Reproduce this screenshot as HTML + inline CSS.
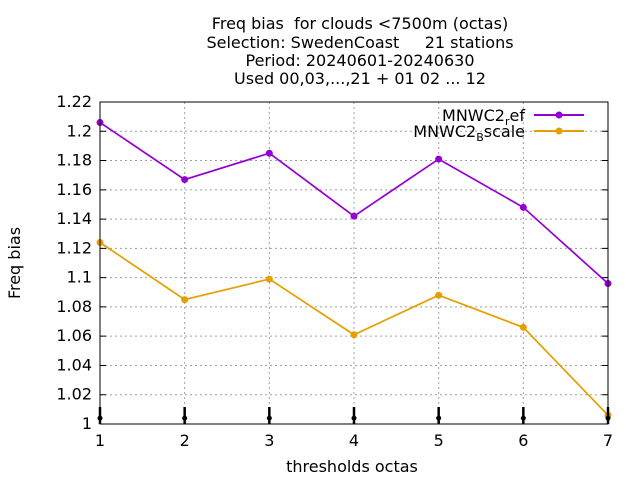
<!DOCTYPE html>
<html><head><meta charset="utf-8"><style>
body{margin:0;background:#fff}
text{font-family:"DejaVu Sans","Liberation Sans",sans-serif;font-size:16px;fill:#000;white-space:pre}
</style></head><body>
<svg id="c" width="640" height="480" xmlns="http://www.w3.org/2000/svg" xml:space="preserve">
<g text-anchor="middle">
<text x="360" y="29">Freq bias  for clouds &lt;7500m (octas)</text>
<text x="360" y="48">Selection: SwedenCoast     21 stations</text>
<text x="360" y="66">Period: 20240601-20240630</text>
<text x="360" y="84">Used 00,03,...,21 + 01 02 ... 12</text>
</g>
<text x="20" y="263" text-anchor="middle" transform="rotate(-90 20 263)">Freq bias</text>
<text x="352" y="472" text-anchor="middle">thresholds octas</text>
<g id="grid"></g><g id="marks"></g>
<rect x="100" y="102" width="508" height="322" fill="none" stroke="#000" stroke-width="1"/>
<g>
<text x="525" y="121" text-anchor="end">MNWC2<tspan font-size="11" dy="4">r</tspan><tspan dy="-4">ef</tspan></text>
<line x1="534" y1="115" x2="584" y2="115" stroke="#9400d3" stroke-width="2"/><circle cx="559" cy="115" r="3.5" fill="#9400d3"/>
<text x="525" y="137" text-anchor="end">MNWC2<tspan font-size="11" dy="4">B</tspan><tspan dy="-4">scale</tspan></text>
<line x1="534" y1="131" x2="584" y2="131" stroke="#e69f00" stroke-width="2"/><circle cx="559" cy="131" r="3.5" fill="#e69f00"/>
</g>
</svg>
<script>
const categories=[1,2,3,4,5,6,7];
const refValues=[1.206,1.167,1.185,1.142,1.181,1.148,1.096];
const bscaleValues=[1.124,1.085,1.099,1.061,1.088,1.066,1.006];
const countValues=[1.004,1.004,1.004,1.004,1.004,1.004,1.004];
const yTicks=[1,1.02,1.04,1.06,1.08,1.1,1.12,1.14,1.16,1.18,1.2,1.22];
const yTickLabels=["1","1.02","1.04","1.06","1.08","1.1","1.12","1.14","1.16","1.18","1.2","1.22"];
const NS="http://www.w3.org/2000/svg";
const X=v=>100+(v-1)*508/6, Y=v=>424-(v-1)*322/0.22;
function mk(p,t,a){const e=document.createElementNS(NS,t);for(const k in a)e.setAttribute(k,a[k]);p.appendChild(e);return e;}
const g=document.getElementById('grid'),m=document.getElementById('marks');
yTicks.forEach((t,i)=>{const y=Y(t);
 if(i>0&&i<yTicks.length-1){const l=mk(g,'line',{x1:100,x2:608,y1:y,y2:y,stroke:'#a0a0a0','stroke-dasharray':'2,3'});
 
 }
 const tk=mk(g,'path',{d:`M100 ${y}h6M608 ${y}h-6`,stroke:'#000'});
 
 
 const tx=mk(g,'text',{x:92,y:y+5,'text-anchor':'end'});tx.textContent=yTickLabels[i];
 
 });
categories.forEach(c=>{const x=X(c);
 if(c>1&&c<7){const l=mk(g,'line',{x1:x,x2:x,y1:102,y2:424,stroke:'#a0a0a0','stroke-dasharray':'2,3'});
 
 }
 const tx=mk(g,'text',{x:x,y:446,'text-anchor':'middle'});tx.textContent=c;
 
 });
function series(vals,col,name){
 const p=mk(m,'polyline',{points:vals.map((v,i)=>X(categories[i])+','+Y(v)).join(' '),fill:'none',stroke:col,'stroke-width':1.7});
 
 
 vals.forEach((v,i)=>{const c=mk(m,'circle',{cx:X(categories[i]),cy:Y(v),r:3.5,fill:col});
 
 });}
series(refValues,'#9400d3','mnwc2-ref');
series(bscaleValues,'#e69f00','mnwc2-bscale');
countValues.forEach((v,i)=>{const x=X(categories[i]);
 const l=mk(m,'line',{x1:x,x2:x,y1:407,y2:424,stroke:'#000','stroke-width':2.5});
 
 
 const c=mk(m,'circle',{cx:x,cy:Y(v),r:2.5,fill:'#000'});
 
 });
</script>
</body></html>
